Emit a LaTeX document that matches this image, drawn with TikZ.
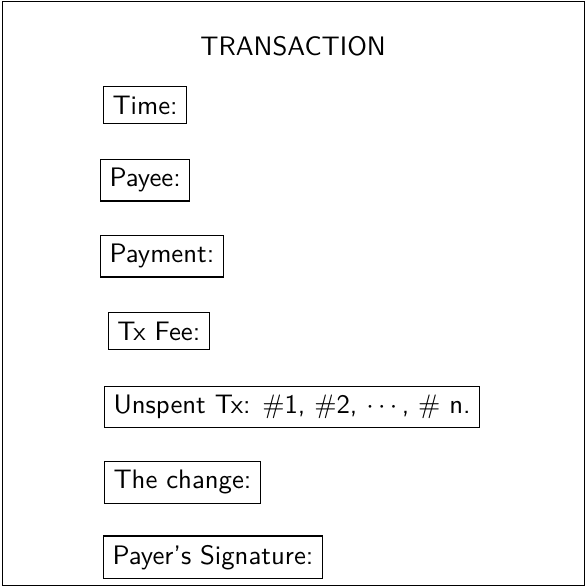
\documentclass[tikz,border=0pt]{standalone}
\usepackage{amsmath}
\usepackage{amssymb}
\usepackage{tikz}
\usetikzlibrary{positioning}
\renewcommand{\familydefault}{\sfdefault}
\tikzstyle{field} = [rectangle, draw=black, anchor=west, font=\sffamily]
\tikzstyle{frame} = [draw=black]

\begin{document}
\begin{tikzpicture}
\useasboundingbox (0,0) rectangle (7.72,-7.72);
\draw[frame] (0.032,-0.016) rectangle (7.686,-7.702);
\node[font=\sffamily] (title) at (3.855,-0.605) {TRANSACTION};
\node[field] (time) at (1.356,-1.382) {Time:};
\node[field] (payee) at (1.316,-2.368) {Payee:};
\node[field] (payment) at (1.316,-3.368) {Payment:};
\node[field] (fee) at (1.420,-4.354) {Tx Fee:};
\node[field] (unspent) at (1.369,-5.354) {Unspent Tx: $\#$1, $\#$2, $\cdots$, $\#$ n.};
\node[field] (change) at (1.369,-6.341) {The change:};
\node[field] (sign) at (1.356,-7.328) {Payer's Signature:};
\end{tikzpicture}
\end{document}
